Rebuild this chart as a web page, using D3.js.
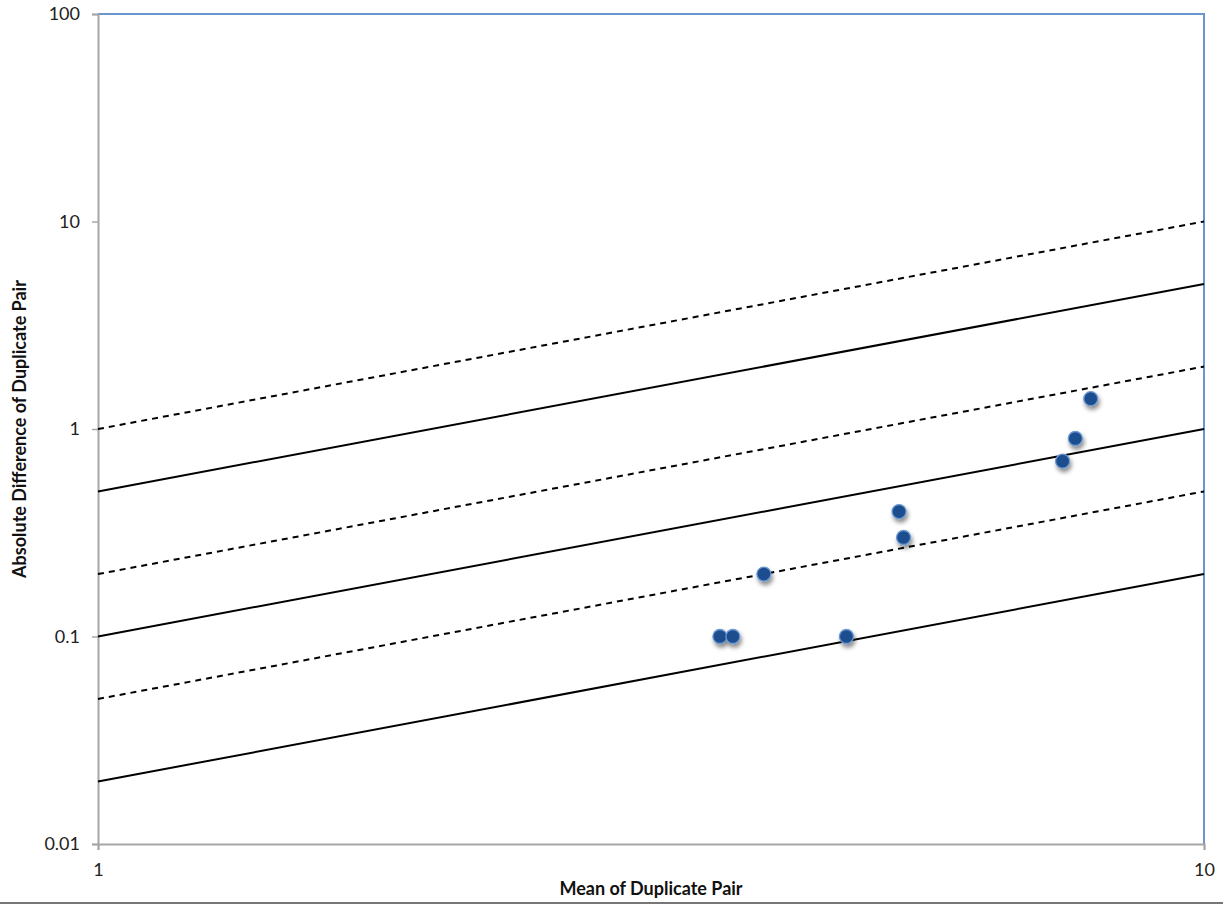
<!DOCTYPE html>
<html><head><meta charset="utf-8">
<script src="https://cdn.jsdelivr.net/npm/d3@7"></script>
<style>body{margin:0;background:#fff;}svg{display:block;}</style>
</head><body>
<script>
const means = [3.65, 3.75, 4.0, 4.75, 5.3, 5.35, 7.45, 7.65, 7.9];
const diffs = [0.1, 0.1, 0.2, 0.1, 0.4, 0.3, 0.7, 0.9, 1.4];
const solidFactors = [0.5, 0.1, 0.02];
const dashedFactors = [1, 0.2, 0.05];
const xTicks = [1, 10];
const yTicks = [0.01, 0.1, 1, 10, 100];
const xTitle = "Mean of Duplicate Pair";
const yTitle = "Absolute Difference of Duplicate Pair";

const W = 1223, H = 904;
const m = {l: 98, r: 1204, t: 14, b: 844};
const svg = d3.select("body").append("svg").attr("width", W).attr("height", H);
const font = "Lato, 'Open Sans', sans-serif";

const defs = svg.append("defs");
const f = defs.append("filter").attr("id", "sh").attr("x", "-60%").attr("y", "-60%").attr("width", "220%").attr("height", "220%");
f.append("feDropShadow").attr("dx", 1.5).attr("dy", 3.5).attr("stdDeviation", 2.2).attr("flood-color", "#000").attr("flood-opacity", 0.45);

const x = d3.scaleLog().domain([1, 10]).range([m.l, m.r]);
const y = d3.scaleLog().domain([0.01, 100]).range([m.b, m.t]);

svg.append("path").attr("d", `M${m.l},${m.t}H${m.r}V${m.b}`).attr("fill", "none").attr("stroke", "#6996cf").attr("stroke-width", 2);

const yAxis = d3.axisLeft(y).tickValues(yTicks).tickFormat(d => String(d)).tickSize(6).tickPadding(12);
const gy = svg.append("g").attr("transform", `translate(${m.l},0)`).call(yAxis);
const xAxis = d3.axisBottom(x).tickValues(xTicks).tickFormat(d => String(d)).tickSize(6).tickPadding(13);
const gx = svg.append("g").attr("transform", `translate(0,${m.b})`).call(xAxis);
[gx, gy].forEach(g => {
  g.select(".domain").attr("stroke", "#a6a6a6").attr("stroke-width", 2);
  g.selectAll(".tick line").attr("stroke", "#a6a6a6").attr("stroke-width", 1.5);
  g.selectAll("text").attr("font-family", font).attr("font-size", 18).attr("fill", "#222");
});
gy.selectAll(".tick text").attr("x", -18);

const line = d3.line().x(d => x(d[0])).y(d => y(d[1]));
solidFactors.forEach(k => {
  svg.append("path").attr("d", line([[1, k], [10, 10 * k]])).attr("stroke", "#000").attr("stroke-width", 2).attr("fill", "none");
});
dashedFactors.forEach(k => {
  svg.append("path").attr("d", line([[1, k], [10, 10 * k]])).attr("stroke", "#000").attr("stroke-width", 2).attr("stroke-dasharray", "6,5").attr("fill", "none");
});

svg.append("g").selectAll("circle").data(means).join("circle")
  .attr("cx", d => x(d)).attr("cy", (d, i) => y(diffs[i])).attr("r", 7)
  .attr("fill", "#1f4e8f").attr("stroke", "#6a98d2").attr("stroke-width", 1.3)
  .attr("filter", "url(#sh)");

svg.append("text").attr("x", (m.l + m.r) / 2).attr("y", 895).attr("text-anchor", "middle")
  .attr("font-family", font).attr("font-weight", "bold").attr("font-size", 18).attr("fill", "#111").text(xTitle);
svg.append("text").attr("transform", `translate(26,${(m.t + m.b) / 2}) rotate(-90)`).attr("text-anchor", "middle")
  .attr("font-family", font).attr("font-weight", "bold").attr("font-size", 18).attr("fill", "#111").text(yTitle);

svg.append("line").attr("x1", 0).attr("x2", W).attr("y1", 903).attr("y2", 903).attr("stroke", "#777").attr("stroke-width", 2);
</script>
</body></html>
